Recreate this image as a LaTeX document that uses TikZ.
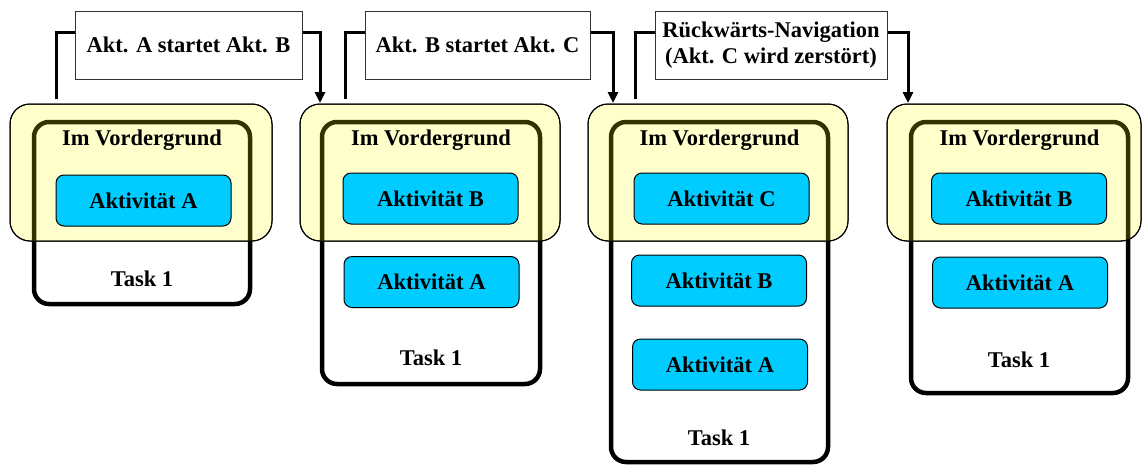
\documentclass[tikz,border=0pt]{standalone}
\usepackage{fontspec}
\setmainfont{Liberation Serif}
\usetikzlibrary{arrows.meta}
\definecolor{fgyellow}{HTML}{FFFFCC}
\definecolor{akcyan}{HTML}{00CCFF}
\definecolor{taskolive}{HTML}{333300}
\tikzset{
  txt/.style={font=\fontsize{22.5}{26}\selectfont\bfseries, inner sep=0pt},
  fgbox/.style={draw=black, line width=1pt, fill=fgyellow, rounded corners=20pt, inner sep=0pt, outer sep=0pt},
  taskbox/.style={draw=black, line width=4.5pt, fill=white, rounded corners=15pt, inner sep=0pt, outer sep=0pt},
  akbox/.style={txt, draw=black, line width=1pt, fill=akcyan, rounded corners=8pt, minimum width=175pt, minimum height=51pt},
  labbox/.style={txt, draw=black!80, line width=1pt, fill=white, minimum height=68pt, align=center},
  conn/.style={line width=3pt},
  arr/.style={conn, -{Triangle[length=11pt,width=10pt]}},
}
\newcommand{\panel}[9]{%
  \node[taskbox, minimum width=#5pt, minimum height=#7pt] (task#1) at (#4,#6) {};
  \node[fgbox, minimum width=#3pt, minimum height=137pt] (fg#1) at (#2,172.5) {};
  \begin{scope}
    \clip[rounded corners=20pt] (fg#1.south west) rectangle (fg#1.north east);
    \draw[taskolive, line width=4.5pt, rounded corners=15pt] (task#1.south west) rectangle (task#1.north east);
  \end{scope}
  \draw[line width=1pt, rounded corners=20pt] (fg#1.south west) rectangle (fg#1.north east);
  \node[txt] (vg#1) at (#4,140) {Im Vordergrund};
  \node[txt] (tk#1) at (#8,#9) {Task 1};
}
\begin{document}
\begin{tikzpicture}[x=1pt, y=-1pt]
\useasboundingbox (0,0) rectangle (1142,464);
\panel{1}{141}{262}{142}{216}{213}{182}{142}{279}
\panel{2}{430}{260}{431}{218}{253}{262}{431}{358}
\panel{3}{718}{260}{719.5}{217}{292}{340}{719}{438}
\panel{4}{1014}{254}{1019.5}{217}{257.5}{271}{1019}{360}
\node[akbox] (a1A) at (143.5,200.5) {Aktivität A};
\node[akbox] (a2B) at (430.5,198.5) {Aktivität B};
\node[akbox] (a2A) at (431.5,282) {Aktivität A};
\node[akbox] (a3C) at (721.5,198.5) {Aktivität C};
\node[akbox] (a3B) at (719,280.5) {Aktivität B};
\node[akbox] (a3A) at (720,364.5) {Aktivität A};
\node[akbox] (a4B) at (1019,198.5) {Aktivität B};
\node[akbox] (a4A) at (1020,282.5) {Aktivität A};
\node[labbox, minimum width=227pt] (lab1) at (188.5,45) {Akt. A startet Akt. B};
\node[labbox, minimum width=225pt] (lab2) at (477.5,45) {Akt. B startet Akt. C};
\node[labbox, minimum width=232pt] (lab3) at (771,45) {Rückwärts-Navigation\\(Akt. C wird zerstört)};
\coordinate (s1) at (56,99);
\coordinate (s2) at (345,99);
\coordinate (s3) at (635,99);
\coordinate (e1) at (320,103);
\coordinate (e2) at (613,103);
\coordinate (e3) at (908,103);
\draw[conn] (s1) |- ([yshift=13pt]lab1.west);
\draw[arr] ([yshift=13pt]lab1.east) -| (e1);
\draw[conn] (s2) |- ([yshift=13pt]lab2.west);
\draw[arr] ([yshift=13pt]lab2.east) -| (e2);
\draw[conn] (s3) |- ([yshift=13pt]lab3.west);
\draw[arr] ([yshift=13pt]lab3.east) -| (e3);
\end{tikzpicture}
\end{document}
